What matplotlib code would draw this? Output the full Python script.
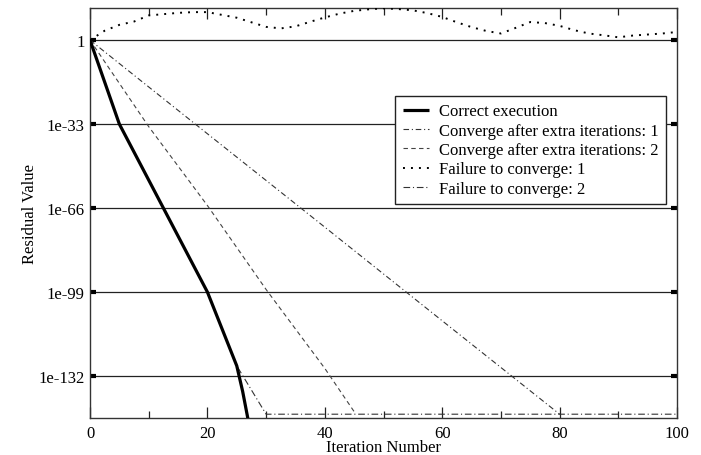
import numpy as np
import matplotlib
matplotlib.use("Agg")
import matplotlib.pyplot as plt
from matplotlib.ticker import FixedLocator, FixedFormatter

plt.rcParams['font.family'] = ['Liberation Serif', 'DejaVu Serif']

# Data (residuals stored as base-10 exponents)
correct_x = [0, 5, 10, 15, 20, 25, 26, 27]
correct_y = [0, -33, -55, -77, -99, -128, -138, -150]

conv1_x = [0, 20, 40, 60, 80]
conv1_y = [0, -36.8, -73.5, -110.3, -147]

conv2_x = [0, 10, 20, 30, 40, 45]
conv2_y = [0, -34, -65, -98, -129, -146]

fail1_x = [0, 2.5, 5, 7.5, 10, 12.5, 15, 17.5, 20, 22.5, 25, 27.5, 30, 32.5, 35,
           37.5, 40, 42.5, 45, 47.5, 50, 52.5, 55, 57.5, 60, 62.5, 65, 67.5, 70,
           72.5, 75, 77.5, 80, 82.5, 85, 87.5, 90, 92.5, 95, 97.5, 100]
fail1_y = [0, 3.7, 6, 7.3, 9.7, 10.2, 10.7, 11, 11, 9.9, 8.8, 7, 5.2, 4.6, 5.4,
           7.2, 8.9, 10.4, 11.5, 12.1, 12.5, 12.2, 11.7, 10.6, 9.1, 7, 5.1, 3.6, 2.6,
           4.8, 7.1, 6.7, 5.6, 3.9, 2.6, 1.9, 1.1, 1.8, 2.2, 2.6, 3.2]

fail2_x = [0, 5, 10, 15, 20, 25, 30, 100]
fail2_y = [0, -33, -55, -77, -99, -128, -147, -147]

ytick_vals = [0, -33, -66, -99, -132]
ytick_labels = ['1', '1e-33', '1e-66', '1e-99', '1e-132']
xtick_major = [0, 20, 40, 60, 80, 100]
xtick_minor = [10, 30, 50, 70, 90]

labels = ['Correct execution', 'Converge after extra iterations: 1',
          'Converge after extra iterations: 2', 'Failure to converge: 1',
          'Failure to converge: 2']

fig = plt.figure(figsize=(7.01, 4.56), dpi=100)
ax = fig.add_axes([0.1284, 0.0811, 0.9658 - 0.1284, 0.9796 - 0.0811])

for yv in ytick_vals:
    ax.axhline(yv, color='#222222', lw=0.9, zorder=1)

thin = '#333333'
l1, = ax.plot(correct_x, correct_y, color='black', lw=2.3, zorder=5, solid_capstyle='butt')
l2, = ax.plot(conv1_x, conv1_y, color=thin, lw=0.8, linestyle=(0, (5, 2.5, 1, 2.5)), zorder=3)
l3, = ax.plot(conv2_x, conv2_y, color='#444444', lw=0.8, linestyle=(0, (4, 3)), zorder=3)
l4, = ax.plot(fail1_x, fail1_y, color='black', lw=1.4, linestyle=(0, (1, 3.1)), zorder=3)
l5, = ax.plot(fail2_x, fail2_y, color=thin, lw=0.8, linestyle=(0, (6, 2.5, 1, 2.5)), zorder=3)

ax.set_xlim(0, 100)
ax.set_ylim(-148.5, 12.5)

ax.xaxis.set_major_locator(FixedLocator(xtick_major))
ax.xaxis.set_minor_locator(FixedLocator(xtick_minor))
ax.yaxis.set_major_locator(FixedLocator(ytick_vals))
ax.yaxis.set_major_formatter(FixedFormatter(ytick_labels))
ax.tick_params(axis='x', which='major', direction='in', length=8, width=0.9,
               top=True, bottom=True, labelsize=12, pad=5, color='#222222')
ax.tick_params(axis='x', which='minor', direction='in', length=5, width=0.9,
               top=True, bottom=True, color='#222222')
ax.tick_params(axis='y', which='major', direction='in', length=4.5, width=3,
               left=True, right=True, labelsize=12, pad=4)

for s in ax.spines.values():
    s.set_color('#333333')
    s.set_linewidth(1.0)

ax.set_xlabel('Iteration Number', fontsize=12, labelpad=-1.5)
ax.set_ylabel('Residual Value', fontsize=12, labelpad=0)

leg = ax.legend([l1, l2, l3, l4, l5], labels, loc='upper left',
                bbox_to_anchor=(0.5196, 0.786), fontsize=12, frameon=True,
                fancybox=False, framealpha=1, edgecolor='#222222',
                handlelength=1.6, handletextpad=0.6, labelspacing=0.2,
                borderpad=0.45, borderaxespad=0)
leg.get_frame().set_linewidth(1.0)
leg.set_zorder(10)

fig.savefig('out.png', dpi=100)
